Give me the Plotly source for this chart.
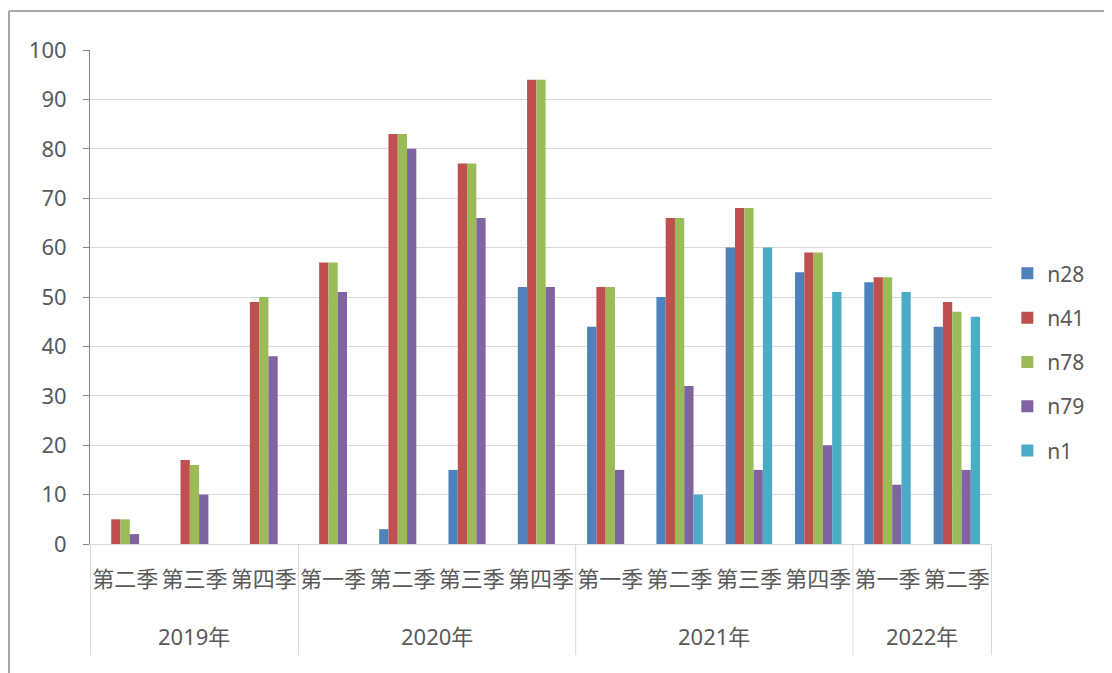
import plotly.graph_objects as go

years = ["2019年"] * 3 + ["2020年"] * 4 + ["2021年"] * 4 + ["2022年"] * 2
quarters = ["第二季", "第三季", "第四季",
            "第一季", "第二季", "第三季", "第四季",
            "第一季", "第二季", "第三季", "第四季",
            "第一季", "第二季"]

n28 = [None, None, None, None, 3, 15, 52, 44, 50, 60, 55, 53, 44]
n41 = [5, 17, 49, 57, 83, 77, 94, 52, 66, 68, 59, 54, 49]
n78 = [5, 16, 50, 57, 83, 77, 94, 52, 66, 68, 59, 54, 47]
n79 = [2, 10, 38, 51, 80, 66, 52, 15, 32, 15, 20, 12, 15]
n1 = [None, None, None, None, None, None, None, None, 10, 60, 51, 51, 46]

series = [("n28", n28, "#4F81BD"), ("n41", n41, "#C0504D"),
          ("n78", n78, "#9BBB59"), ("n79", n79, "#8064A2"),
          ("n1", n1, "#4BACC6")]

# unique category keys (year + quarter), shown with quarter text only
cats = [y + q for y, q in zip(years, quarters)]

FONT = "Segoe UI, Noto Sans, Noto Sans CJK SC, sans-serif"
CJK = "Microsoft YaHei, Noto Sans CJK SC, sans-serif"
TXT = "#595959"
DIV = "#D9D9D9"

fig = go.Figure()
for name, vals, color in series:
    fig.add_trace(go.Bar(
        x=cats, y=vals, name=name, legendgroup=name,
        marker=dict(color=color, line=dict(width=0)),
    ))

# year group labels and dividers derived from the category lists
annotations = []
shapes = []
groups = []
for i, y in enumerate(years):
    if not groups or groups[-1][0] != y:
        groups.append([y, i, i])
    else:
        groups[-1][2] = i
for y, a, b in groups:
    annotations.append(dict(
        x=(a + b) / 2, y=-0.186, xref="x", yref="paper", text=y,
        showarrow=False, xanchor="center", yanchor="middle",
        font=dict(size=22, color=TXT, family=FONT)))
bounds = [groups[0][1] - 0.5] + [g[2] + 0.5 for g in groups]
for bx in bounds:
    shapes.append(dict(type="line", xref="x", yref="paper",
                       x0=bx, x1=bx, y0=0, y1=-0.225,
                       line=dict(color=DIV, width=1)))

# outer chart border (top and left edges visible)
shapes += [
    dict(type="line", xref="paper", yref="paper",
         x0=-0.0898, x1=-0.0898, y0=-0.3, y1=1.079,
         line=dict(color="#A6A6A6", width=2)),
    dict(type="line", xref="paper", yref="paper",
         x0=-0.0898, x1=1.2, y0=1.079, y1=1.079,
         line=dict(color="#A6A6A6", width=2)),
]

fig.update_layout(
    width=1104, height=665,
    margin=dict(l=82, r=120, t=42, b=129, autoexpand=False),
    paper_bgcolor="white", plot_bgcolor="white",
    barmode="group", bargap=0.33, bargroupgap=0,
    font=dict(family=FONT, color=TXT, size=21),
    legend=dict(x=1.017, y=0.368, xanchor="left", yanchor="middle",
                font=dict(size=21, color=TXT), tracegroupgap=14,
                bgcolor="rgba(0,0,0,0)"),
    xaxis=dict(type="category", showgrid=False,
               showline=True, linecolor=DIV, linewidth=1,
               ticks="", tickmode="array", tickvals=cats, ticktext=quarters,
               tickangle=0, ticklabelstandoff=16,
               tickfont=dict(size=22, color=TXT, family=CJK)),
    yaxis=dict(range=[0, 100], dtick=10, showgrid=True, gridcolor=DIV,
               gridwidth=1, zeroline=False, showline=True,
               linecolor="#868686", linewidth=1, ticks="outside",
               ticklen=6, tickcolor="#868686", ticklabelstandoff=12,
               tickfont=dict(size=22, color=TXT)),
    annotations=annotations,
    shapes=shapes,
)

fig.write_html("out.html")
